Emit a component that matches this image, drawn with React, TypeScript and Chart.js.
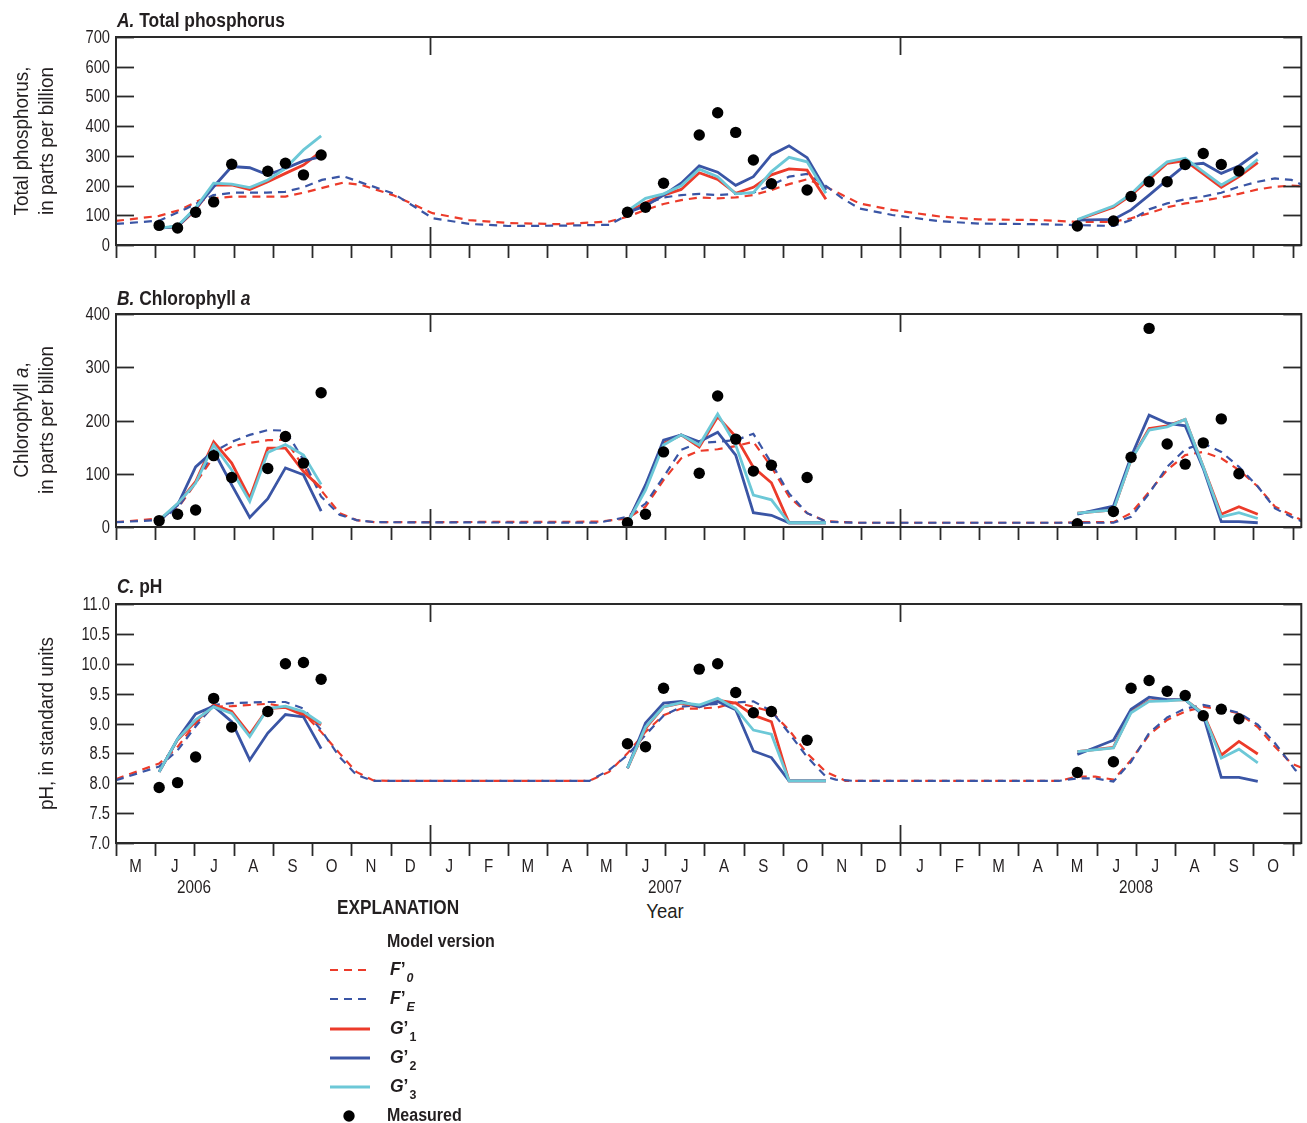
import React, { useEffect, useRef } from "react";
import { Chart, registerables } from "chart.js";
Chart.register(...registerables);

// ---------------- fonts / colours ----------------
const FONT = "'Liberation Sans', Arimo, Arial, sans-serif";
const INK = "#231f20";
const RED = "#ec3b2a";
const BLUE = "#3a55a5";
const CYAN = "#6cc8d7";

// ---------------- axis categories ----------------
// x values are months since 1 May 2006
const monthLabels = ["M", "J", "J", "A", "S", "O", "N", "D", "J", "F", "M", "A", "M", "J", "J", "A", "S", "O", "N", "D", "J", "F", "M", "A", "M", "J", "J", "A", "S", "O"];
const yearLabels = ["2006", "2007", "2008"];
const yearLabelPos = [2, 14, 26]; // 1 July of each year
const yearBoundaries = [8, 20]; // 1 Jan 2007, 1 Jan 2008
const X_MAX = 30.22;

// sampling dates (months since 1 May 2006)
const dates2006 = [1.10, 1.57, 2.03, 2.49, 2.95, 3.41, 3.87, 4.32, 4.78, 5.23];
const dates2007 = [13.04, 13.50, 13.96, 14.41, 14.87, 15.34, 15.80, 16.25, 16.71, 17.16, 17.62, 18.10];
const dates2008 = [24.51, 25.43, 25.88, 26.34, 26.80, 27.26, 27.72, 28.18, 28.63, 29.11];

// ---------------- A. Total phosphorus ----------------
const tpMeas2006 = [66, 57, 110, 145, 272, null, 248, 275, 236, 303];
const tpMeas2007 = [110, 127, 208, null, 370, 445, 379, 286, 206, null, 185, null];
const tpMeas2008 = [64, 81, 163, 213, 213, 271, 308, 271, 249, null];
const tpG1_2006 = [57, 62, 118, 202, 202, 187, 213, 241, 269, 315];
const tpG2_2006 = [57, 62, 123, 196, 264, 260, 236, 258, 283, 297];
const tpG3_2006 = [57, 64, 125, 208, 205, 193, 219, 258, 320, 367];
const tpG1_2007 = [110, 142, 168, 187, 243, 221, 174, 194, 236, 256, 252, 154];
const tpG2_2007 = [110, 131, 168, 208, 266, 245, 201, 230, 303, 334, 294, 185];
const tpG3_2007 = [115, 157, 172, 199, 255, 230, 172, 176, 247, 295, 280, 174];
const tpG1_2008 = [84, 127, 168, 221, 275, 284, 239, 194, 230, 277];
const tpG2_2008 = [84, 86, 118, 168, 219, 269, 275, 241, 266, 312];
const tpG3_2008 = [86, 131, 172, 230, 280, 292, 247, 202, 236, 288];
const tpF0: [number, number][] = [[0, 81], [1.10, 98], [1.63, 118], [2.14, 151], [2.50, 157], [3.0, 163], [3.87, 163], [4.32, 163], [4.78, 176], [5.23, 191], [5.79, 210], [6.26, 202], [7.06, 168], [8.07, 107], [9.0, 84], [10.0, 74], [11.3, 70], [12.58, 79], [13.04, 95], [13.50, 118], [13.96, 138], [14.41, 151], [14.87, 160], [15.34, 157], [15.80, 160], [16.25, 168], [16.71, 185], [17.16, 205], [17.62, 221], [18.10, 196], [18.52, 168], [18.95, 140], [19.79, 118], [21.0, 96], [22.0, 86], [23.53, 84], [24.51, 78], [25.43, 78], [25.88, 90], [26.34, 107], [26.80, 127], [27.26, 140], [27.72, 149], [28.18, 160], [28.63, 172], [29.11, 187], [29.55, 196], [29.97, 200], [30.22, 198]];
const tpFE: [number, number][] = [[0, 71], [1.10, 82], [1.80, 123], [2.48, 168], [2.99, 176], [3.84, 176], [4.31, 179], [4.77, 194], [5.25, 219], [5.79, 232], [6.26, 210], [7.06, 174], [8.08, 90], [9.0, 71], [10.0, 64], [11.3, 65], [12.58, 68], [13.04, 101], [13.50, 138], [13.96, 160], [14.41, 168], [14.87, 172], [15.34, 168], [15.80, 172], [16.25, 176], [16.71, 202], [17.16, 230], [17.62, 239], [18.10, 199], [18.52, 157], [18.95, 123], [19.79, 101], [21.0, 80], [22.0, 72], [23.53, 70], [24.51, 67], [25.43, 64], [25.88, 84], [26.34, 120], [26.80, 140], [27.26, 154], [27.72, 163], [28.18, 176], [28.63, 196], [29.11, 213], [29.55, 224], [29.97, 219], [30.22, 204]];

// ---------------- B. Chlorophyll a ----------------
const chlMeas2006 = [12, 24, 32, 134, 93, null, 110, 170, 120, 252];
const chlMeas2007 = [8, 24, 141, null, 101, 246, 165, 105, 116, null, 93, null];
const chlMeas2008 = [6, 29, 131, 373, 156, 118, 158, 203, 100, null];
const chlG1_2006 = [12, 43, 85, 160, 120, 54, 148, 148, 104, 73];
const chlG2_2006 = [12, 41, 113, 143, 79, 18, 53, 111, 98, 30];
const chlG3_2006 = [13, 44, 82, 154, 107, 48, 140, 155, 135, 80];
const chlG1_2007 = [8, 76, 157, 173, 150, 207, 170, 112, 83, 8, 8, 8];
const chlG2_2007 = [8, 79, 163, 173, 160, 178, 135, 27, 22, 8, 8, 8];
const chlG3_2007 = [8, 69, 154, 173, 154, 212, 154, 60, 51, 8, 8, 8];
const chlG1_2008 = [26, 32, 126, 185, 190, 202, 113, 24, 38, 24];
const chlG2_2008 = [24, 39, 132, 210, 195, 190, 110, 10, 10, 8];
const chlG3_2008 = [26, 32, 126, 182, 188, 202, 113, 19, 27, 16];
const chlF0: [number, number][] = [[0, 9], [1.10, 16], [1.57, 35], [2.03, 82], [2.49, 132], [2.95, 151], [3.41, 158], [3.87, 163], [4.32, 164], [4.78, 113], [5.23, 69], [5.70, 26], [6.13, 13], [6.6, 9], [12.3, 10], [13.04, 16], [13.50, 38], [13.96, 88], [14.41, 129], [14.87, 143], [15.34, 146], [15.80, 152], [16.25, 160], [16.71, 113], [17.16, 57], [17.62, 26], [18.10, 11], [18.9, 8], [24.04, 8], [24.51, 9], [25.43, 9], [25.88, 26], [26.34, 66], [26.80, 107], [27.26, 135], [27.72, 141], [28.18, 129], [28.63, 107], [29.11, 76], [29.55, 38], [29.97, 23], [30.22, 13]];
const chlFE: [number, number][] = [[0, 9], [1.10, 13], [1.57, 35], [2.03, 85], [2.49, 141], [2.95, 160], [3.41, 173], [3.87, 182], [4.32, 181], [4.78, 126], [5.23, 57], [5.70, 23], [6.13, 13], [6.6, 9], [12.3, 8], [13.04, 19], [13.50, 44], [13.96, 94], [14.41, 145], [14.87, 158], [15.34, 160], [15.80, 163], [16.25, 175], [16.71, 120], [17.16, 63], [17.62, 26], [18.10, 10], [18.9, 8], [25.43, 8], [25.88, 19], [26.34, 63], [26.80, 113], [27.26, 146], [27.72, 157], [28.18, 141], [28.63, 113], [29.11, 76], [29.55, 35], [29.97, 19], [30.22, 11]];

// ---------------- C. pH ----------------
const phMeas2006 = [7.93, 8.01, 8.44, 9.42, 8.94, null, 9.20, 10.00, 10.02, 9.74];
const phMeas2007 = [8.66, 8.61, 9.59, null, 9.91, 10.00, 9.52, 9.18, 9.20, null, 8.72, null];
const phMeas2008 = [8.18, 8.36, 9.59, 9.72, 9.54, 9.47, 9.13, 9.24, 9.08, null];
const phG1_2006 = [8.19, 8.73, 9.03, 9.31, 9.20, 8.82, 9.25, 9.27, 9.14, 8.98];
const phG2_2006 = [8.19, 8.74, 9.16, 9.29, 9.03, 8.39, 8.84, 9.15, 9.11, 8.58];
const phG3_2006 = [8.19, 8.74, 9.06, 9.28, 9.17, 8.78, 9.25, 9.29, 9.20, 9.00];
const phG1_2007 = [8.25, 8.92, 9.28, 9.34, 9.28, 9.39, 9.34, 9.14, 9.03, 8.04, 8.04, 8.04];
const phG2_2007 = [8.25, 9.01, 9.34, 9.37, 9.28, 9.37, 9.23, 8.54, 8.43, 8.04, 8.04, 8.04];
const phG3_2007 = [8.25, 8.94, 9.28, 9.35, 9.31, 9.42, 9.25, 8.89, 8.82, 8.04, 8.04, 8.04];
const phG1_2008 = [8.53, 8.60, 9.20, 9.38, 9.39, 9.40, 9.17, 8.47, 8.70, 8.49];
const phG2_2008 = [8.48, 8.72, 9.24, 9.44, 9.40, 9.40, 9.14, 8.10, 8.10, 8.03];
const phG3_2008 = [8.53, 8.59, 9.18, 9.37, 9.38, 9.40, 9.16, 8.42, 8.57, 8.34];
const phF0: [number, number][] = [[0, 8.07], [1.10, 8.33], [1.57, 8.61], [2.03, 9.00], [2.49, 9.28], [2.95, 9.29], [3.41, 9.31], [3.87, 9.33], [4.32, 9.28], [4.78, 9.17], [5.23, 8.86], [5.70, 8.50], [6.13, 8.19], [6.55, 8.05], [7.0, 8.04], [12.07, 8.04], [12.57, 8.19], [13.04, 8.50], [13.50, 8.86], [13.96, 9.14], [14.41, 9.25], [14.87, 9.25], [15.34, 9.27], [15.80, 9.35], [16.25, 9.28], [16.71, 9.20], [17.16, 8.89], [17.62, 8.50], [18.10, 8.19], [18.6, 8.04], [24.04, 8.04], [24.51, 8.11], [24.97, 8.11], [25.43, 8.06], [25.88, 8.39], [26.34, 8.81], [26.80, 9.06], [27.26, 9.20], [27.72, 9.28], [28.18, 9.24], [28.63, 9.17], [29.11, 8.94], [29.55, 8.61], [29.97, 8.33], [30.22, 8.26]];
const phFE: [number, number][] = [[0, 8.05], [1.10, 8.28], [1.57, 8.55], [2.03, 8.95], [2.49, 9.31], [2.95, 9.34], [3.41, 9.35], [3.87, 9.36], [4.32, 9.36], [4.78, 9.25], [5.23, 8.89], [5.70, 8.44], [6.13, 8.14], [6.55, 8.04], [12.07, 8.04], [12.57, 8.22], [13.04, 8.47], [13.50, 8.81], [13.96, 9.13], [14.41, 9.28], [14.87, 9.31], [15.34, 9.33], [15.80, 9.35], [16.25, 9.37], [16.71, 9.21], [17.16, 8.84], [17.62, 8.44], [18.10, 8.11], [18.35, 8.06], [18.8, 8.04], [24.04, 8.04], [24.51, 8.08], [24.97, 8.08], [25.43, 8.03], [25.88, 8.36], [26.34, 8.84], [26.80, 9.10], [27.26, 9.25], [27.72, 9.31], [28.18, 9.25], [28.63, 9.18], [29.11, 8.98], [29.55, 8.67], [30.07, 8.22], [30.22, 8.15]];

// ---------------- layout constants ----------------
const W = 1307;
const AREA_LEFT = 116;
const AREA_RIGHT = 1302;
const MONTH_PX = (AREA_RIGHT - AREA_LEFT) / X_MAX;
const xPix = (m: number) => AREA_LEFT + m * MONTH_PX;
const TICK_FONT = `17.5px ${FONT}`;
const MONTH_FONT = `18px ${FONT}`;
const NARROW = 0.84;

type Seg = [number[], (number | null)[]];
function seasonal(segs: Seg[]) {
  const out: { x: number; y: number | null }[] = [];
  segs.forEach(([xs, ys], k) => {
    xs.forEach((x, i) => out.push({ x, y: ys[i] }));
    if (k < segs.length - 1) out.push({ x: xs[xs.length - 1] + 0.3, y: null });
  });
  return out;
}
function points(segs: Seg[]) {
  const out: { x: number; y: number }[] = [];
  segs.forEach(([xs, ys]) => xs.forEach((x, i) => { const v = ys[i]; if (v !== null) out.push({ x, y: v }); }));
  return out;
}
const pairs = (p: [number, number][]) => p.map(([x, y]) => ({ x, y }));

type PanelCfg = {
  canvasTop: number; canvasH: number; padTop: number; xAxisH: number;
  yMin: number; yMax: number; step: number; decimals: number; showMonths: boolean;
  meas: Seg[]; g1: Seg[]; g2: Seg[]; g3: Seg[]; f0: [number, number][]; fe: [number, number][];
};

const panels: PanelCfg[] = [
  {
    canvasTop: 0, canvasH: 260, padTop: 37, xAxisH: 15, yMin: 0, yMax: 700, step: 100, decimals: 0, showMonths: false,
    meas: [[dates2006, tpMeas2006], [dates2007, tpMeas2007], [dates2008, tpMeas2008]],
    g1: [[dates2006, tpG1_2006], [dates2007, tpG1_2007], [dates2008, tpG1_2008]],
    g2: [[dates2006, tpG2_2006], [dates2007, tpG2_2007], [dates2008, tpG2_2008]],
    g3: [[dates2006, tpG3_2006], [dates2007, tpG3_2007], [dates2008, tpG3_2008]],
    f0: tpF0, fe: tpFE,
  },
  {
    canvasTop: 290, canvasH: 252, padTop: 24, xAxisH: 15, yMin: 0, yMax: 400, step: 100, decimals: 0, showMonths: false,
    meas: [[dates2006, chlMeas2006], [dates2007, chlMeas2007], [dates2008, chlMeas2008]],
    g1: [[dates2006, chlG1_2006], [dates2007, chlG1_2007], [dates2008, chlG1_2008]],
    g2: [[dates2006, chlG2_2006], [dates2007, chlG2_2007], [dates2008, chlG2_2008]],
    g3: [[dates2006, chlG3_2006], [dates2007, chlG3_2007], [dates2008, chlG3_2008]],
    f0: chlF0, fe: chlFE,
  },
  {
    canvasTop: 580, canvasH: 303, padTop: 24, xAxisH: 40, yMin: 7, yMax: 11, step: 0.5, decimals: 1, showMonths: true,
    meas: [[dates2006, phMeas2006], [dates2007, phMeas2007], [dates2008, phMeas2008]],
    g1: [[dates2006, phG1_2006], [dates2007, phG1_2007], [dates2008, phG1_2008]],
    g2: [[dates2006, phG2_2006], [dates2007, phG2_2007], [dates2008, phG2_2008]],
    g3: [[dates2006, phG3_2006], [dates2007, phG3_2007], [dates2008, phG3_2008]],
    f0: phF0, fe: phFE,
  },
];

function narrowText(ctx: CanvasRenderingContext2D, s: string, x: number, y: number, align: CanvasTextAlign) {
  ctx.save();
  ctx.translate(x, y);
  ctx.scale(NARROW, 1);
  ctx.textAlign = align;
  ctx.textBaseline = "middle";
  ctx.fillText(s, 0, 0);
  ctx.restore();
}

const framePlugin = {
  id: "frame",
  afterDraw(chart: any) {
    const { ctx, chartArea } = chart;
    const { left, right, top, bottom } = chartArea;
    const x = chart.scales.x;
    const y = chart.scales.y;
    const opts = chart.options.plugins.frame || {};
    const line = (x1: number, y1: number, x2: number, y2: number) => {
      ctx.beginPath(); ctx.moveTo(x1, y1); ctx.lineTo(x2, y2); ctx.stroke();
    };
    ctx.save();
    ctx.strokeStyle = "#2a2a2a";
    ctx.lineWidth = 2;
    ctx.strokeRect(left, top, right - left, bottom - top);
    ctx.lineWidth = 1.8;
    ctx.fillStyle = INK;
    ctx.font = TICK_FONT;
    y.ticks.forEach((t: any) => {
      const py = Math.round(y.getPixelForValue(t.value)) + 0.5;
      line(left, py, left + 18, py);
      line(right, py, right - 18, py);
      narrowText(ctx, Number(t.value).toFixed(opts.decimals || 0), left - 6, py + 1, "right");
    });
    for (let i = 0; i <= monthLabels.length; i++) {
      const px = Math.round(x.getPixelForValue(i)) + 0.5;
      line(px, bottom, px, bottom + 13);
    }
    if (opts.showMonths) {
      ctx.font = MONTH_FONT;
      monthLabels.forEach((m, i) => narrowText(ctx, m, x.getPixelForValue(i + 0.5), bottom + 24, "center"));
    }
    yearBoundaries.forEach((b) => {
      const px = Math.round(x.getPixelForValue(b)) + 0.5;
      line(px, top, px, top + 18);
      line(px, bottom, px, bottom - 18);
    });
    ctx.restore();
  },
};

function Panel({ cfg }: { cfg: PanelCfg }) {
  const ref = useRef<HTMLCanvasElement | null>(null);
  useEffect(() => {
    const solid = (label: string, color: string, data: any) => ({
      label, data, borderColor: color, backgroundColor: color, borderWidth: 2.8, pointRadius: 0, spanGaps: false, tension: 0,
    });
    const dashed = (label: string, color: string, data: any) => ({
      label, data, borderColor: color, backgroundColor: color, borderWidth: 2.2, borderDash: [8, 6], pointRadius: 0, tension: 0,
    });
    const chart = new Chart(ref.current as HTMLCanvasElement, {
      type: "line",
      data: {
        datasets: [
          { label: "Measured", data: points(cfg.meas), showLine: false, pointRadius: 5.7, pointBackgroundColor: "#000", pointBorderWidth: 0, borderColor: "#000" } as any,
          solid("G'3", CYAN, seasonal(cfg.g3)),
          solid("G'2", BLUE, seasonal(cfg.g2)),
          solid("G'1", RED, seasonal(cfg.g1)),
          dashed("F'E", BLUE, pairs(cfg.fe)),
          dashed("F'0", RED, pairs(cfg.f0)),
        ],
      },
      options: {
        responsive: false,
        animation: false,
        events: [],
        layout: { padding: { left: 0, right: W - AREA_RIGHT, top: cfg.padTop, bottom: 0 } },
        plugins: {
          legend: { display: false }, tooltip: { enabled: false },
          frame: { decimals: cfg.decimals, showMonths: cfg.showMonths },
        },
        scales: {
          x: {
            type: "linear", min: 0, max: X_MAX,
            grid: { display: false }, border: { display: false },
            afterBuildTicks: (s: any) => { s.ticks = monthLabels.map((_, i) => ({ value: i })); },
            afterFit: (s: any) => { s.height = cfg.xAxisH; },
            ticks: { display: false },
          },
          y: {
            type: "linear", min: cfg.yMin, max: cfg.yMax,
            grid: { display: false }, border: { display: false },
            afterFit: (s: any) => { s.width = AREA_LEFT; },
            ticks: { display: false, stepSize: cfg.step },
          },
        },
      } as any,
      plugins: [framePlugin],
    });
    return () => chart.destroy();
  }, []);
  return (
    <canvas ref={ref} width={W} height={cfg.canvasH}
      style={{ position: "absolute", left: 0, top: cfg.canvasTop, width: W, height: cfg.canvasH }} />
  );
}

const txt: React.CSSProperties = { position: "absolute", fontFamily: FONT, color: INK, whiteSpace: "nowrap", lineHeight: 1 };

function YTitle({ cx, cy, lines }: { cx: number; cy: number; lines: React.ReactNode[] }) {
  const w = 260, lh = 25, h = lh * lines.length;
  return (
    <div style={{ ...txt, left: cx - w / 2, top: cy - h / 2, width: w, height: h, transform: "rotate(-90deg) scaleX(0.92)", textAlign: "center", fontSize: 20.5, lineHeight: `${lh}px` }}>
      {lines.map((l, i) => <div key={i}>{l}</div>)}
    </div>
  );
}

const sub: React.CSSProperties = { fontSize: 13.5, position: "relative", top: 7, marginLeft: 1 };

const legendItems: { color: string; dash: boolean; label: React.ReactNode }[] = [
  { color: RED, dash: true, label: <><i>F</i>’<span style={sub}><i>0</i></span></> },
  { color: BLUE, dash: true, label: <><i>F</i>’<span style={sub}><i>E</i></span></> },
  { color: RED, dash: false, label: <><i>G</i>’<span style={sub}>1</span></> },
  { color: BLUE, dash: false, label: <><i>G</i>’<span style={sub}>2</span></> },
  { color: CYAN, dash: false, label: <><i>G</i>’<span style={sub}>3</span></> },
];

const titleStyle: React.CSSProperties = { ...txt, left: 117, fontSize: 20, fontWeight: "bold", transform: "scaleX(0.87)", transformOrigin: "left center" };
const boldLeft = (size: number, k: number): React.CSSProperties => ({ ...txt, fontSize: size, fontWeight: "bold", transform: `scaleX(${k})`, transformOrigin: "left center" });

export default function App() {
  return (
    <div style={{ position: "absolute", left: 0, top: 0, width: W, height: 1123, background: "#fff", overflow: "hidden", fontFamily: FONT }}>
      {panels.map((p, i) => <Panel key={i} cfg={p} />)}

      <div style={{ ...titleStyle, top: 10 }}><i>A.</i> Total phosphorus</div>
      <div style={{ ...titleStyle, top: 288 }}><i>B.</i> Chlorophyll <i>a</i></div>
      <div style={{ ...titleStyle, top: 576 }}><i>C.</i> pH</div>

      <YTitle cx={33} cy={141} lines={["Total phosphorus,", "in parts per billion"]} />
      <YTitle cx={33} cy={420} lines={[<>Chlorophyll <i>a</i>,</>, "in parts per billion"]} />
      <YTitle cx={45} cy={723} lines={["pH, in standard units"]} />

      {yearLabels.map((y, i) => (
        <div key={y} style={{ ...txt, left: xPix(yearLabelPos[i]) - 40, width: 80, textAlign: "center", top: 878, fontSize: 18, transform: "scaleX(0.85)" }}>{y}</div>
      ))}
      <div style={{ ...txt, left: xPix(14) - 40, width: 80, textAlign: "center", top: 901, fontSize: 20.5, transform: "scaleX(0.9)" }}>Year</div>
      <div style={{ ...boldLeft(21, 0.82), left: 337, top: 896 }}>EXPLANATION</div>

      <div style={{ ...boldLeft(18, 0.89), left: 387, top: 932 }}>Model version</div>
      {legendItems.map((it, i) => {
        const cy = 970 + i * 29.3;
        return (
          <React.Fragment key={i}>
            <svg style={{ position: "absolute", left: 328, top: cy - 3, width: 44, height: 6 }} width={44} height={6}>
              <line x1={2} y1={3} x2={42} y2={3} stroke={it.color} strokeWidth={it.dash ? 2.2 : 2.8} strokeDasharray={it.dash ? "8 6" : undefined} />
            </svg>
            <div style={{ ...boldLeft(19, 0.92), left: 390, top: cy - 11 }}>{it.label}</div>
          </React.Fragment>
        );
      })}
      <svg style={{ position: "absolute", left: 343, top: 1110, width: 12, height: 12 }} width={12} height={12}>
        <circle cx={6} cy={6} r={5.7} fill="#000" />
      </svg>
      <div style={{ ...boldLeft(18, 0.89), left: 387, top: 1106 }}>Measured</div>
    </div>
  );
}
